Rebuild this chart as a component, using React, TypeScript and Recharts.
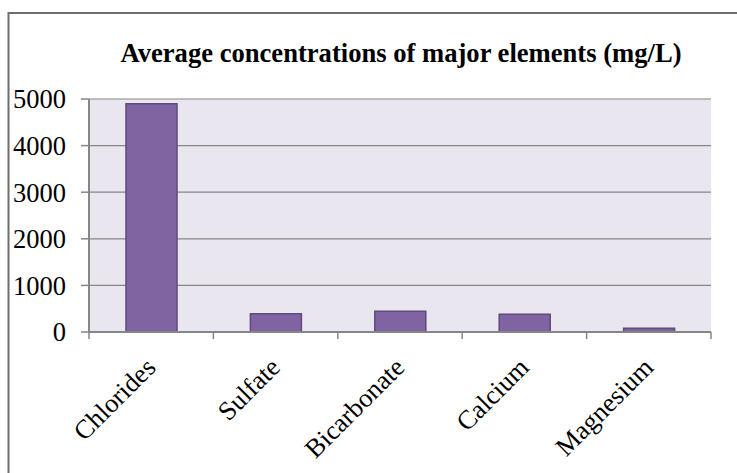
import { BarChart, Bar, XAxis, YAxis, CartesianGrid } from 'recharts'

const elements = ['Chlorides', 'Sulfate', 'Bicarbonate', 'Calcium', 'Magnesium']
const concentrations = [4900, 390, 445, 380, 80]
const yTicks = [0, 1000, 2000, 3000, 4000, 5000]

const data = elements.map((name, i) => ({ name, value: concentrations[i] }))

const W = 737
const H = 473
const FONT = '"Liberation Serif", "Times New Roman", serif'
const AXIS = '#868686'
const HALF_BAND = (711 - 89) / elements.length / 2

function CategoryTick(props: any) {
  const { x, y, payload, index } = props
  const ax = x + 6
  const ay = y + 37
  return (
    <g>
      {index === 0 && (
        <line x1={x - HALF_BAND} x2={x - HALF_BAND} y1={y} y2={y + 7} stroke={AXIS} strokeWidth={1.5} />
      )}
      <line x1={x + HALF_BAND} x2={x + HALF_BAND} y1={y} y2={y + 7} stroke={AXIS} strokeWidth={1.5} />
      <text
        x={ax}
        y={ay}
        transform={`rotate(-45, ${ax}, ${ay})`}
        textAnchor="end"
        fontFamily={FONT}
        fontSize={26.5}
        fill="#000"
      >
        {payload.value}
      </text>
    </g>
  )
}

export default function App() {
  return (
    <div style={{ position: 'absolute', left: 0, top: 0, width: W, height: H, background: '#fff' }}>
      <BarChart
        width={W}
        height={H}
        data={data}
        margin={{ top: 99, right: 26, bottom: 41, left: 0 }}
        barSize={51}
      >
        <CartesianGrid vertical={false} fill="#EAE6EF" stroke={AXIS} strokeWidth={1.2} />
        <XAxis
          dataKey="name"
          height={100}
          interval={0}
          tickLine={false}
          tickSize={0}
          tickMargin={0}
          axisLine={{ stroke: AXIS, strokeWidth: 2 }}
          tick={<CategoryTick />}
        />
        <YAxis
          width={89}
          domain={[0, 5000]}
          ticks={yTicks}
          interval={0}
          tickSize={8}
          tickMargin={15}
          tickLine={{ stroke: AXIS, strokeWidth: 1.5 }}
          axisLine={{ stroke: AXIS, strokeWidth: 2 }}
          tick={{ fontFamily: FONT, fontSize: 26.5, fill: '#000' }}
        />
        <Bar dataKey="value" fill="#8064A2" stroke="#5E4A7C" strokeWidth={1.5} isAnimationActive={false} />
      </BarChart>
      <svg width={W} height={H} style={{ position: 'absolute', left: 0, top: 0, pointerEvents: 'none' }}>
        <line x1={8.5} x2={W} y1={13} y2={13} stroke="#6e6e6e" strokeWidth={2} />
        <line x1={8.5} x2={8.5} y1={12} y2={H} stroke="#6e6e6e" strokeWidth={2} />
        <text
          x={401}
          y={62}
          textAnchor="middle"
          fontFamily={FONT}
          fontWeight="bold"
          fontSize={26.6}
          fill="#000"
        >
          Average concentrations of major elements (mg/L)
        </text>
      </svg>
    </div>
  )
}
